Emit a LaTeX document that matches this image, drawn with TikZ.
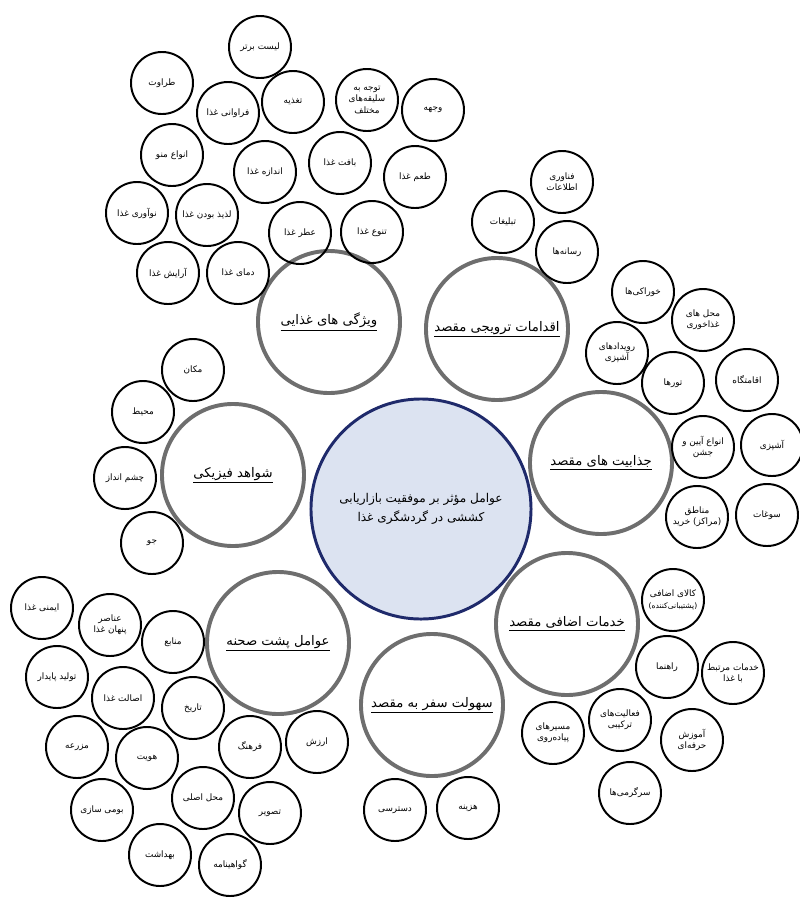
\documentclass[tikz,border=0pt]{standalone}
\usepackage{fontspec}
\newfontfamily\arabicfont[Script=Arabic]{DejaVu Sans}
\TeXXeTstate=1
\newcommand{\fa}[1]{\beginR #1\endR}
\definecolor{navy}{HTML}{1F2A6B}
\definecolor{paleblue}{HTML}{DCE3F1}
\definecolor{ringgray}{HTML}{6E6E6E}

\begin{document}
\begin{tikzpicture}[x=0.025cm,y=-0.025cm]
\tikzstyle{item} = [shape=circle, draw=black, line width=1.4pt, minimum size=1.55cm, inner sep=0, align=center, font=\arabicfont\fontsize{6.3}{8}\selectfont]
\tikzstyle{factor} = [shape=circle, draw=ringgray, line width=2.8pt, minimum size=3.55cm, inner sep=0, font=\arabicfont\fontsize{9.4}{11}\selectfont]
\tikzstyle{core} = [shape=circle, draw=navy, fill=paleblue, line width=2.1pt, minimum size=5.5cm, inner sep=0, align=center, font=\arabicfont\fontsize{8.6}{13.5}\selectfont]

\useasboundingbox (0,0) rectangle (800,903);

% core and factors
\node [core] (core) at (421,509) {\fa{عوامل مؤثر بر موفقیت بازاریابی}\\\fa{کششی در گردشگری غذا}};
\node [factor] (food) at (329,322) {\underline{\fa{ویژگی های غذایی}}};
\node [factor] (promo) at (497,329) {\underline{\fa{اقدامات ترویجی مقصد}}};
\node [factor] (attr) at (601,463) {\underline{\fa{جذابیت های مقصد}}};
\node [factor] (serv) at (567,624) {\underline{\fa{خدمات اضافی مقصد}}};
\node [factor] (ease) at (432,705) {\underline{\fa{سهولت سفر به مقصد}}};
\node [factor] (back) at (278,643) {\underline{\fa{عوامل پشت صحنه}}};
\node [factor] (phys) at (233,475) {\underline{\fa{شواهد فیزیکی}}};

% food features
\node [item] (top) at (260,47) {\fa{لیست برتر}};
\node [item] (fresh) at (162,83) {\fa{طراوت}};
\node [item] (plenty) at (228,113) {\fa{فراوانی غذا}};
\node [item] (nutr) at (293,102) {\fa{تغذیه}};
\node [item] (taste) at (367,100) {\fa{توجه به}\\\fa{سلیقه‌های}\\\fa{مختلف}};
\node [item] (image1) at (433,110) {\fa{وجهه}};
\node [item] (menu) at (172,155) {\fa{انواع منو}};
\node [item] (size) at (265,172) {\fa{اندازه غذا}};
\node [item] (texture) at (340,163) {\fa{بافت غذا}};
\node [item] (flavour) at (415,177) {\fa{طعم غذا}};
\node [item] (innov) at (137,213) {\fa{نوآوری غذا}};
\node [item] (tasty) at (207,215) {\fa{لذیذ بودن غذا}};
\node [item] (aroma) at (300,233) {\fa{عطر غذا}};
\node [item] (variety) at (372,232) {\fa{تنوع غذا}};
\node [item] (deco) at (168,273) {\fa{آرایش غذا}};
\node [item] (temp) at (238,273) {\fa{دمای غذا}};

% promotion
\node [item] (it) at (562,182) {\fa{فناوری}\\\fa{اطلاعات}};
\node [item] (ads) at (503,222) {\fa{تبلیغات}};
\node [item] (media) at (567,252) {\fa{رسانه‌ها}};

% attractions
\node [item] (snack) at (643,292) {\fa{خوراکی‌ها}};
\node [item] (dine) at (703,320) {\fa{محل های}\\\fa{غذاخوری}};
\node [item] (event) at (617,353) {\fa{رویدادهای}\\\fa{آشپزی}};
\node [item] (tour) at (673,383) {\fa{تورها}};
\node [item] (stay) at (747,380) {\fa{اقامتگاه}};
\node [item] (fest) at (703,447) {\fa{انواع آیین و}\\\fa{جشن}};
\node [item] (cook) at (772,445) {\fa{آشپزی}};
\node [item] (shop) at (697,517) {\fa{مناطق}\\\fa{(مراکز) خرید}};
\node [item] (souv) at (767,515) {\fa{سوغات}};

% extra services
\node [item] (goods) at (673,600) {\fa{کالای اضافی}\\{\fontsize{5.4}{7}\selectfont\fa{(پشتیبانی‌کننده)}}};
\node [item] (guide) at (667,667) {\fa{راهنما}};
\node [item] (fserv) at (733,673) {\fa{خدمات مرتبط}\\\fa{با غذا}};
\node [item] (mixed) at (620,720) {\fa{فعالیت‌های}\\\fa{ترکیبی}};
\node [item] (walk) at (553,733) {\fa{مسیرهای}\\\fa{پیاده‌روی}};
\node [item] (train) at (692,740) {\fa{آموزش}\\\fa{حرفه‌ای}};
\node [item] (fun) at (630,793) {\fa{سرگرمی‌ها}};

% ease of travel
\node [item] (access) at (395,810) {\fa{دسترسی}};
\node [item] (cost) at (468,808) {\fa{هزینه}};

% backstage
\node [item] (safe) at (42,608) {\fa{ایمنی غذا}};
\node [item] (hidden) at (110,625) {\fa{عناصر}\\\fa{پنهان غذا}};
\node [item] (source) at (173,642) {\fa{منابع}};
\node [item] (sust) at (57,677) {\fa{تولید پایدار}};
\node [item] (auth) at (123,698) {\fa{اصالت غذا}};
\node [item] (hist) at (193,708) {\fa{تاریخ}};
\node [item] (farm) at (77,747) {\fa{مزرعه}};
\node [item] (ident) at (147,758) {\fa{هویت}};
\node [item] (cult) at (250,747) {\fa{فرهنگ}};
\node [item] (value) at (317,742) {\fa{ارزش}};
\node [item] (origin) at (203,798) {\fa{محل اصلی}};
\node [item] (local) at (102,810) {\fa{بومی سازی}};
\node [item] (image2) at (270,813) {\fa{تصویر}};
\node [item] (hyg) at (160,855) {\fa{بهداشت}};
\node [item] (cert) at (230,865) {\fa{گواهینامه}};

% physical evidence
\node [item] (place) at (193,370) {\fa{مکان}};
\node [item] (env) at (143,412) {\fa{محیط}};
\node [item] (view) at (125,478) {\fa{چشم انداز}};
\node [item] (mood) at (152,543) {\fa{جو}};
\end{tikzpicture}
\end{document}
